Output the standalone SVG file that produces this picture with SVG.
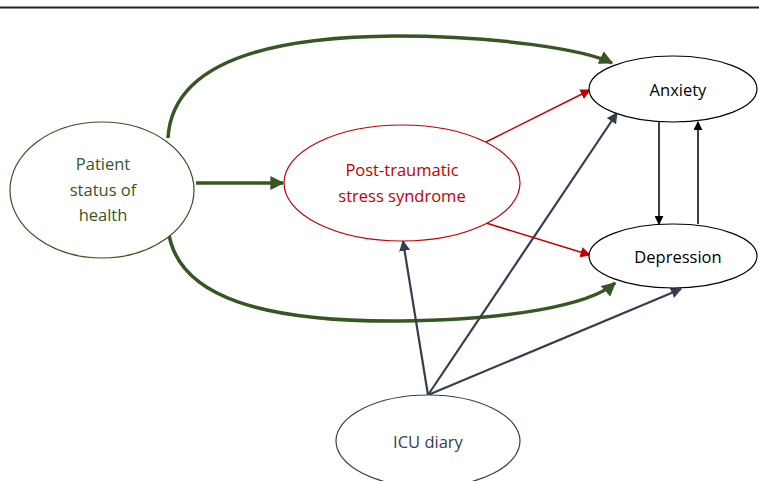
<svg xmlns="http://www.w3.org/2000/svg" width="759" height="481" viewBox="0 0 759 481">
<defs>
<style>
.t{font-family:"Open Sans","Liberation Sans",sans-serif;font-size:16.5px;text-anchor:middle}
.node{fill:#fff;stroke-width:1.2}
</style>
<marker id="mg" viewBox="0 0 10 10" refX="9" refY="5" markerWidth="4" markerHeight="4" orient="auto" markerUnits="strokeWidth"><path d="M0,0L10,5L0,10z" fill="#375623"/></marker>
<marker id="mr" viewBox="0 0 10 10" refX="9" refY="5" markerWidth="7" markerHeight="7" orient="auto" markerUnits="strokeWidth"><path d="M0,0L10,5L0,10z" fill="#c00000"/></marker>
<marker id="ms" viewBox="0 0 10 10" refX="9" refY="5" markerWidth="5" markerHeight="5" orient="auto" markerUnits="strokeWidth"><path d="M0,0L10,5L0,10z" fill="#333f50"/></marker>
<marker id="mk" viewBox="0 0 10 10" refX="9" refY="5" markerWidth="6" markerHeight="6" orient="auto" markerUnits="strokeWidth"><path d="M0,0L10,5L0,10z" fill="#000"/></marker>
</defs>
<rect width="759" height="481" fill="#fff"/>
<line x1="0" y1="7.5" x2="759" y2="7.5" stroke="#222" stroke-width="1.8"/>
<g id="connectors" fill="none">
<path d="M168,138 C172,70 250,37 395,36 C500,36 585,50 612,63" stroke="#375623" stroke-width="3.5" marker-end="url(#mg)"/>
<path d="M168,228 C175,300 270,322 400,321 C510,320 590,305 615,283" stroke="#375623" stroke-width="3.5" marker-end="url(#mg)"/>
<line x1="196" y1="183" x2="283" y2="183" stroke="#375623" stroke-width="3.5" marker-end="url(#mg)"/>
<line x1="486" y1="142" x2="590" y2="90" stroke="#c00000" stroke-width="1.5" marker-end="url(#mr)"/>
<line x1="486" y1="223" x2="590" y2="255" stroke="#c00000" stroke-width="1.5" marker-end="url(#mr)"/>
<line x1="428" y1="395" x2="403" y2="241" stroke="#333f50" stroke-width="2.2" marker-end="url(#ms)"/>
<line x1="428" y1="395" x2="617" y2="113" stroke="#333f50" stroke-width="2.2" marker-end="url(#ms)"/>
<line x1="428" y1="395" x2="681" y2="289" stroke="#333f50" stroke-width="2.2" marker-end="url(#ms)"/>
<line x1="659" y1="122" x2="659" y2="224" stroke="#000" stroke-width="1.5" marker-end="url(#mk)"/>
<line x1="698" y1="224" x2="698" y2="122" stroke="#000" stroke-width="1.5" marker-end="url(#mk)"/>
</g>
<g id="patient">
<ellipse class="node" cx="102" cy="190" rx="92" ry="68" stroke="#375623"/>
<text class="t" x="103" y="170" fill="#375623">Patient</text>
<text class="t" x="103" y="196" fill="#375623">status of</text>
<text class="t" x="103" y="221" fill="#375623">health</text>
</g>
<g id="ptsd">
<ellipse class="node" cx="402" cy="183" rx="118" ry="58" stroke="#c00000"/>
<text class="t" x="402" y="176" fill="#c00000">Post-traumatic</text>
<text class="t" x="402" y="202" fill="#c00000">stress syndrome</text>
</g>
<g id="anxiety">
<ellipse class="node" cx="673" cy="89" rx="84" ry="33" stroke="#000"/>
<text class="t" x="678" y="96" fill="#000">Anxiety</text>
</g>
<g id="depression">
<ellipse class="node" cx="673" cy="256" rx="84" ry="32" stroke="#000"/>
<text class="t" x="678" y="263" fill="#000">Depression</text>
</g>
<g id="icu">
<ellipse class="node" cx="428" cy="441" rx="92" ry="46" stroke="#333f50"/>
<text class="t" x="428" y="448" fill="#333f50">ICU diary</text>
</g>
</svg>
